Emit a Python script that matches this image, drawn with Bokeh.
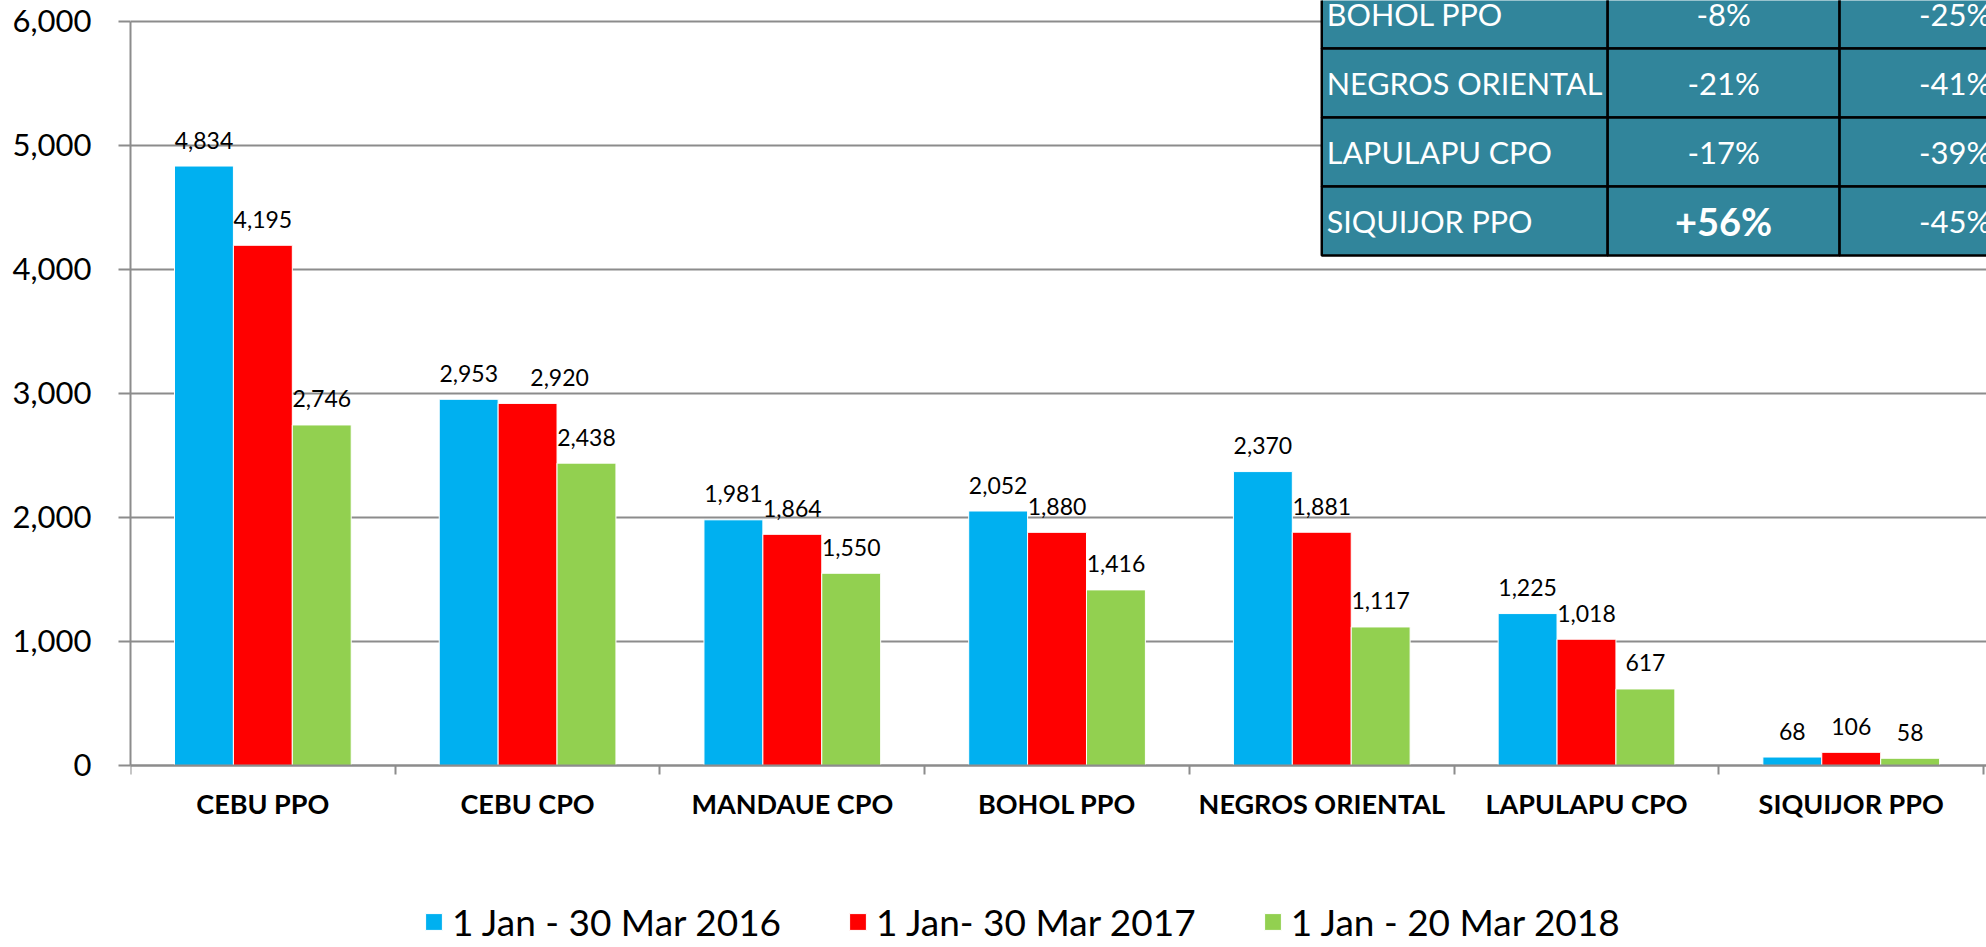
from bokeh.plotting import figure
from bokeh.models import (ColumnDataSource, Range1d, FixedTicker, NumeralTickFormatter,
                          Legend, LegendItem)
from bokeh.transform import dodge
from bokeh.core.properties import value
from bokeh.embed import file_html
from bokeh.resources import INLINE

# ---------------- data ----------------
categories = ["CEBU PPO", "CEBU CPO", "MANDAUE CPO", "BOHOL PPO",
              "NEGROS ORIENTAL", "LAPULAPU CPO", "SIQUIJOR PPO"]
series_names = ["1 Jan - 30 Mar 2016", "1 Jan- 30 Mar 2017", "1 Jan - 20 Mar 2018"]
values_2016 = [4834, 2953, 1981, 2052, 2370, 1225, 68]
values_2017 = [4195, 2920, 1864, 1880, 1881, 1018, 106]
values_2018 = [2746, 2438, 1550, 1416, 1117, 617, 58]
y_ticks = [0, 1000, 2000, 3000, 4000, 5000, 6000]

table_rows = ["BOHOL PPO", "NEGROS ORIENTAL", "LAPULAPU CPO", "SIQUIJOR PPO"]
table_change_a = ["-8%", "-21%", "-17%", "+56%"]
table_change_b = ["-25%", "-41%", "-39%", "-45%"]

# ---------------- styles / layout ----------------
colors = ["#00B0F0", "#FF0000", "#92D050"]
GRAY = "#8c8c8c"
BAR_W = 0.2225
offsets = [-BAR_W, 0.0, BAR_W]
TEAL = "#31859B"
# horizontal nudges (px) of individual data labels to avoid overlap: (series, category) -> px
label_nudge = {(1, 1): 32}

# table geometry (in data units of the chart)
col_edges = [4.5, 5.58, 6.456, 7.33]
row_edges = [6339, 5782, 5226, 4669, 4113]

p = figure(width=1986, height=947,
           x_range=Range1d(0, 7.011), y_range=Range1d(-1468, 6169),
           output_backend="svg", toolbar_location=None,
           min_border_left=130, min_border_right=0,
           min_border_top=0, min_border_bottom=0)
p.outline_line_color = None
p.background_fill_color = "white"
p.border_fill_color = "white"

centers = [i + 0.5 for i in range(len(categories))]
series = [values_2016, values_2017, values_2018]
data = dict(x=centers, cat=categories)
for k, vals in enumerate(series):
    data[f"v{k}"] = vals
    data[f"l{k}"] = [f"{v:,}" for v in vals]
    data[f"n{k}"] = [label_nudge.get((k, i), 0) for i in range(len(vals))]
source = ColumnDataSource(data)

bars = []
for k in range(3):
    r = p.vbar(x=dodge("x", offsets[k], range=p.x_range), top=f"v{k}", width=BAR_W,
               source=source, fill_color=colors[k], line_color="white", line_width=1)
    bars.append(r)
    p.text(x=dodge("x", offsets[k], range=p.x_range), y=f"v{k}", text=f"l{k}",
           source=source, text_align="center", text_baseline="alphabetic",
           x_offset=f"n{k}", y_offset=-26, text_font=value("Lato"), text_font_size="23px",
           text_color="black")

# ---------------- axes ----------------
xa = p.xaxis[0]
xa.fixed_location = 0
xa.ticker = FixedTicker(ticks=centers, minor_ticks=list(range(len(categories) + 1)))
xa.major_label_overrides = {c: name for c, name in zip(centers, categories)}
xa.major_tick_line_color = None
xa.major_tick_out = 0
xa.major_tick_in = 0
xa.minor_tick_out = 9
xa.minor_tick_in = 0
xa.minor_tick_line_color = GRAY
xa.minor_tick_line_width = 2
xa.axis_line_color = GRAY
xa.axis_line_width = 2
xa.major_label_standoff = 13
xa.major_label_text_font = "Lato"
xa.major_label_text_font_style = "bold"
xa.major_label_text_font_size = "27px"
xa.major_label_text_color = "black"

ya = p.yaxis[0]
ya.ticker = FixedTicker(ticks=y_ticks)
ya.formatter = NumeralTickFormatter(format="0,0")
ya.bounds = (0, 6000)
ya.major_tick_out = 12
ya.major_tick_in = 0
ya.major_tick_line_color = GRAY
ya.major_tick_line_width = 2
ya.minor_tick_line_color = None
ya.axis_line_color = GRAY
ya.axis_line_width = 2
ya.major_label_standoff = 27
ya.major_label_text_font = "Lato"
ya.major_label_text_font_size = "31px"
ya.major_label_text_color = "black"

p.xgrid.visible = False
p.ygrid.grid_line_color = GRAY
p.ygrid.grid_line_width = 2

# ---------------- inset table ----------------
cl, cr, ct, cb = [], [], [], []
for r in range(len(table_rows)):
    for c in range(3):
        cl.append(col_edges[c]); cr.append(col_edges[c + 1])
        ct.append(row_edges[r]); cb.append(row_edges[r + 1])
p.quad(left=cl, right=cr, top=ct, bottom=cb, fill_color=TEAL,
       line_color="black", line_width=2.5)

row_mid = [(row_edges[i] + row_edges[i + 1]) / 2 for i in range(len(table_rows))]
col_mid = [(col_edges[i] + col_edges[i + 1]) / 2 for i in range(3)]

p.text(x=[col_edges[0]] * len(table_rows), y=row_mid, text=table_rows,
       x_offset=5, text_align="left", text_baseline="middle",
       text_font=value("Lato"), text_font_size="30.5px", text_color="white")

reg_x, reg_y, reg_t, b_x, b_y, b_t = [], [], [], [], [], []
for col, vals in ((1, table_change_a), (2, table_change_b)):
    for i, t in enumerate(vals):
        if t.startswith("+"):
            b_x.append(col_mid[col]); b_y.append(row_mid[i]); b_t.append(t)
        else:
            reg_x.append(col_mid[col]); reg_y.append(row_mid[i]); reg_t.append(t)
p.text(x=reg_x, y=reg_y, text=reg_t, text_align="center", text_baseline="middle",
       text_font=value("Lato"), text_font_size="31px", text_color="white")
p.text(x=b_x, y=b_y, text=b_t, text_align="center", text_baseline="middle",
       text_font=value("Lato"), text_font_style="bold", text_font_size="38px",
       text_color="white")

# ---------------- legend ----------------
legend = Legend(items=[LegendItem(label=series_names[k], renderers=[bars[k]]) for k in range(3)],
                orientation="horizontal", location=(293, 3),
                glyph_width=21, glyph_height=21, label_standoff=8, spacing=66,
                padding=0, margin=0, border_line_color=None, background_fill_alpha=0,
                label_text_font="Lato", label_text_font_size="37px",
                label_text_color="black")
p.add_layout(legend)

open("out.html", "w").write(file_html(p, INLINE))
